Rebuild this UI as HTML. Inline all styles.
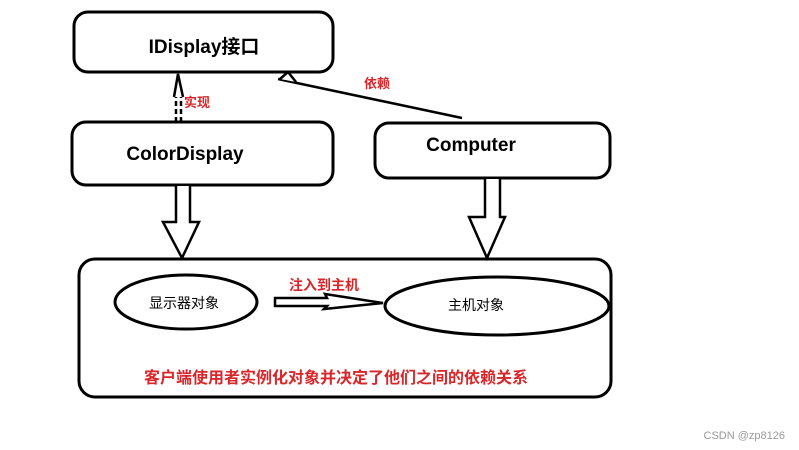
<!DOCTYPE html>
<html><head><meta charset="utf-8"><style>
html,body{margin:0;padding:0;background:#fff;}
svg{display:block;}
text{font-family:"Liberation Sans","Noto Sans CJK SC",sans-serif;}
</style></head><body>
<svg width="799" height="450" viewBox="0 0 799 450" xmlns="http://www.w3.org/2000/svg">
<g fill="none" stroke="#000" stroke-width="3">
<rect x="74" y="12" width="259" height="60" rx="14"/>
<rect x="72" y="122" width="261" height="63" rx="14"/>
<rect x="375" y="123" width="235" height="55" rx="14"/>
<rect x="79" y="259" width="532" height="138" rx="16"/>
<ellipse cx="186" cy="302" rx="71" ry="27"/>
<ellipse cx="497" cy="306" rx="112" ry="29"/>
</g>
<!-- hollow down arrows -->
<g fill="#fff" stroke="#000" stroke-width="2.5" stroke-linejoin="miter">
<path d="M176,186 L176,222 L163,222 L182,258 L199,222 L190,222 L190,186"/>
<path d="M485,179 L485,217 L469,217 L487,258 L505,217 L500,217 L500,179"/>
<path d="M275,298 L327,298 L325,294 L383,303 L324,309 L327,306 L275,306 Z"/>
</g>
<!-- implementation dashed arrow -->
<g stroke="#000" stroke-width="2.5">
<line x1="176" y1="122" x2="176" y2="96" stroke-dasharray="5,3"/>
<line x1="181" y1="122" x2="181" y2="96" stroke-dasharray="5,3"/>
<path d="M174,97 L178,74 L183,97" fill="#fff"/>
</g>
<!-- dependency line -->
<g stroke="#000" stroke-width="2.5" fill="#fff">
<line x1="462" y1="118" x2="278" y2="79"/>
<path d="M280,79 L288,72 L296,82"/>
</g>
<text x="204" y="53" font-size="19" font-weight="bold" text-anchor="middle">IDisplay接口</text>
<text x="185" y="160" font-size="19" font-weight="bold" text-anchor="middle">ColorDisplay</text>
<text x="471" y="151" font-size="19" font-weight="bold" text-anchor="middle">Computer</text>
<text x="184" y="107" font-size="13" fill="#d9262a" font-weight="bold">实现</text>
<text x="364" y="88" font-size="13" fill="#d9262a" font-weight="bold">依赖</text>
<text x="289" y="290" font-size="14" fill="#d9262a" font-weight="bold">注入到主机</text>
<text x="184" y="308" font-size="14" text-anchor="middle">显示器对象</text>
<text x="476" y="310" font-size="14" text-anchor="middle">主机对象</text>
<text x="336" y="383" font-size="16" fill="#d9262a" font-weight="bold" text-anchor="middle">客户端使用者实例化对象并决定了他们之间的依赖关系</text>
<text x="785" y="439" font-size="11" fill="#999" text-anchor="end">CSDN @zp8126</text>
</svg>
</body></html>
